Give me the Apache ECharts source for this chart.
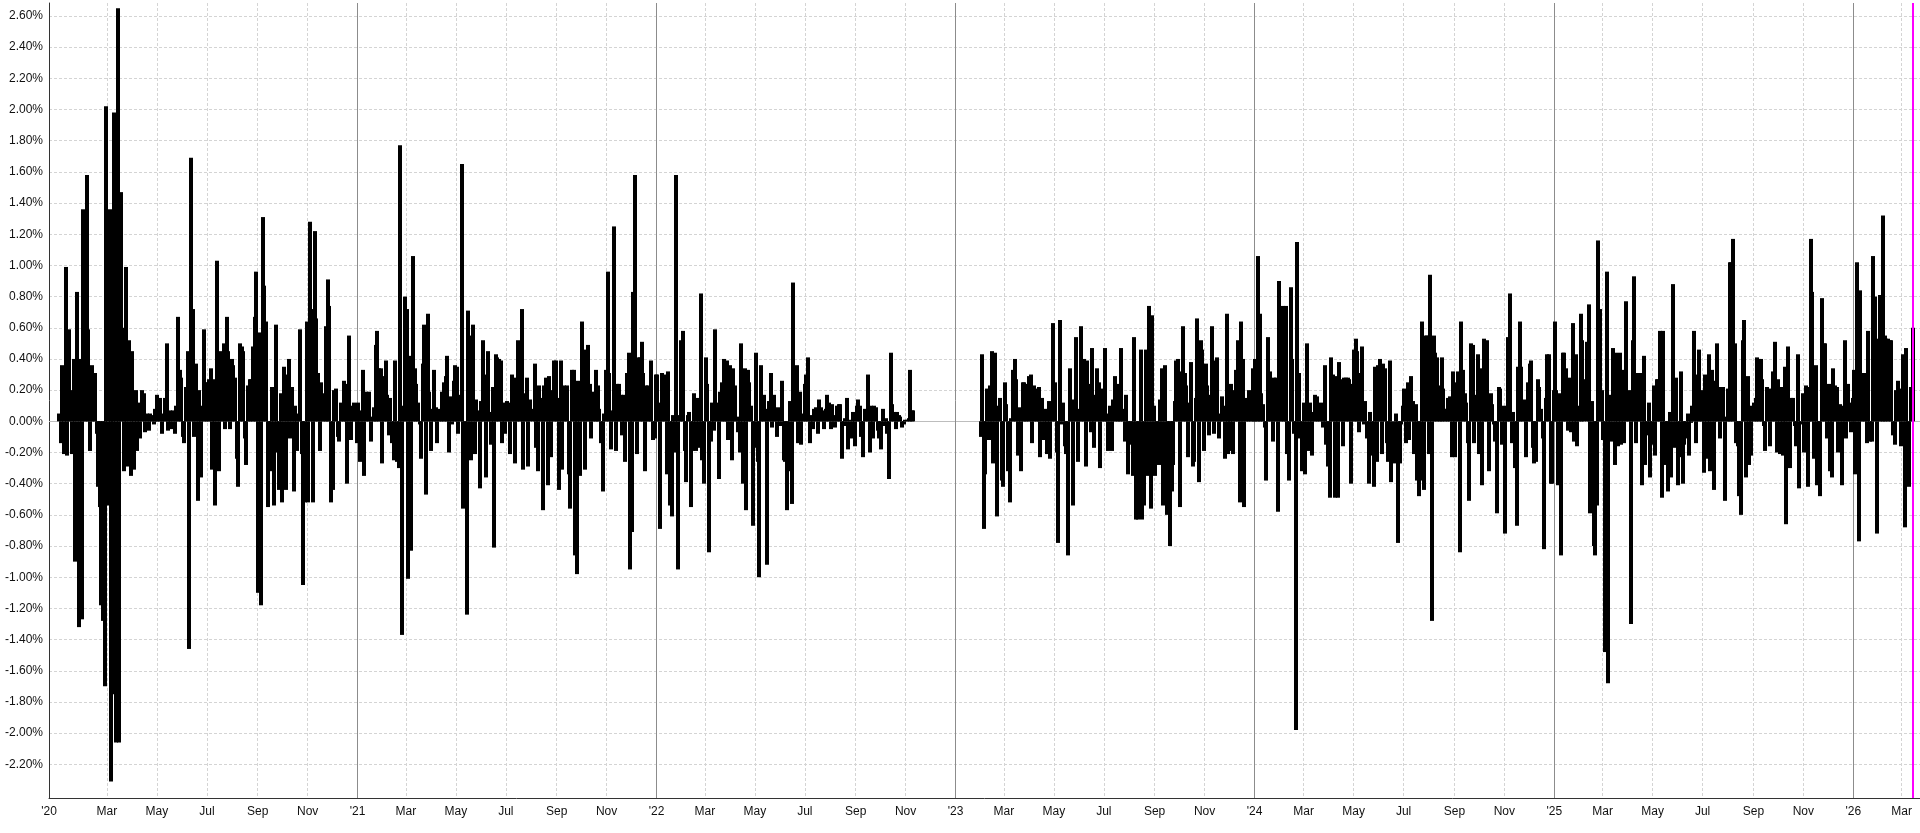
<!DOCTYPE html>
<html>
<head>
<meta charset="utf-8">
<script src="https://cdn.jsdelivr.net/npm/echarts@6/dist/echarts.min.js"></script>
<style>html,body{margin:0;padding:0;background:#fff}#chart{width:1920px;height:833px}</style>
</head>
<body>
<div id="chart"></div>
<script>
// Daily return (%), one value roughly every two calendar days
const ret2020 = [
 0.05,-0.14,0.36,-0.21,0.99,-0.22,0.59,0.20,-0.21,0.40,-0.90,0.83,-1.32,0.40,-1.27,1.36,0.25,1.58,0.59,-0.19,0.36,0.20,0.31,-0.08,-0.42,-0.55,-1.18,-1.28,-1.70,2.02,
 -0.54,1.36,-2.31,-1.75,1.98,-2.06,2.65,-2.06,1.47,0.60,-0.32,0.99,-0.29,0.52,-0.35,0.45,-0.31,0.20,-0.19,0.12,-0.11,0.20,0.18,-0.07,0.05,-0.06,0.05,0.04,-0.02,0.08,
 0.17,0.02,0.15,-0.08,0.05,0.15,0.50,-0.06,0.07,-0.05,0.07,-0.08,0.10,0.67,0.33,0.28,-0.10,-0.14,0.22,0.45,-1.46,1.69,0.72,-0.10,0.37,-0.51,0.20,-0.36,0.10,0.59,0.25,
 0.25,0.27,0.34,-0.31,0.27,-0.54,1.03,-0.32,0.45,0.41,0.50,-0.05,0.67,0.45,-0.05,0.40,0.36,0.28,-0.24,-0.42,0.50,0.48,0.45,-0.11,-0.28,0.23,0.27,0.27,0.48,0.67,0.96,
 -1.10,0.57,-1.18,1.31,0.87,0.64,-0.55,-0.14,-0.32,0.22,-0.54,0.62,-0.20,-0.44,0.18,-0.52,0.35,-0.44,0.30,0.40,-0.11,0.22,-0.45,0.10,-0.19,0.05,0.59,-0.21,-1.05,-0.52,0.64,
 -0.52,1.28,0.72,-0.52,1.22,0.66,0.31,-0.19,0.25,0.18,0.17,0.61,0.91,0.74,-0.52,-0.44,0.20,0.21,-0.10,-0.13,0.12,0.09,0.26,0.24,-0.40,0.55,-0.12,0.10,0.12,0.05,-0.14
];
const ret2021 = [
 0.12,-0.26,0.07,0.33,-0.35,0.19,0.05,0.19,-0.13,0.03,0.09,0.49,0.58,0.34,0.34,-0.27,0.29,0.39,0.17,-0.09,0.15,-0.14,-0.25,0.39,-0.26,-0.30,1.77,-1.37,0.10,0.80,
 0.72,-1.01,0.42,-0.83,1.06,0.34,0.24,0.12,-0.02,-0.24,0.37,0.62,-0.47,0.69,0.19,-0.19,0.08,0.33,0.09,-0.14,0.08,0.04,0.19,0.25,0.29,0.42,-0.20,0.16,-0.02,0.26,0.36,
 0.35,-0.08,0.17,1.65,-0.56,-0.08,-1.24,0.71,0.55,-0.25,0.62,-0.21,0.14,0.07,-0.43,0.13,0.52,0.30,-0.36,0.45,0.06,-0.15,0.22,-0.81,0.43,0.41,0.40,0.39,-0.14,0.12,-0.08,
 0.13,0.12,-0.21,0.30,0.28,-0.27,0.13,0.52,0.35,0.72,-0.31,0.18,0.28,-0.29,0.14,0.00,0.08,0.37,-0.17,-0.32,0.23,0.15,-0.57,0.23,0.28,-0.41,0.29,-0.23,0.20,0.39,0.39,
 0.15,-0.44,0.39,-0.31,0.23,0.17,0.23,-0.34,-0.56,0.33,0.33,-0.86,-0.98,0.26,-0.35,0.64,0.30,-0.31,0.46,0.49,0.24,-0.11,0.19,0.10,0.33,0.23,0.08,-0.14,-0.45,0.05,0.33,
 0.96,0.31,-0.18,0.07,1.25,-0.19,0.24,0.24,0.17,-0.09,0.17,-0.26,0.31,0.44,-0.95,-0.71,0.83,1.58,-0.21,0.41,0.41,0.51,0.31,-0.32,0.23,0.23,0.19,0.39,-0.12,-0.11,0.30
];
const ret2022 = [
 0.30,0.12,-0.69,0.31,0.18,0.30,-0.34,0.32,-0.54,-0.61,0.04,-0.20,1.58,-0.95,0.04,0.52,0.58,-0.19,-0.39,0.04,0.06,-0.55,-0.19,0.18,-0.19,0.15,-0.17,0.82,-0.25,-0.40,
 0.41,0.24,-0.84,-0.13,0.12,-0.06,0.59,0.12,-0.37,0.19,0.25,0.40,0.31,0.39,-0.12,0.36,-0.25,0.34,0.23,0.03,-0.07,-0.20,0.50,-0.40,0.34,-0.57,0.33,0.25,0.10,-0.67,-0.17,
 0.44,-0.26,-1.00,0.36,0.06,0.17,0.08,-0.92,0.13,0.31,-0.04,0.17,0.09,-0.10,0.09,-0.03,0.26,-0.25,-0.26,-0.57,-0.32,0.13,-0.53,0.89,0.13,0.36,-0.14,0.19,-0.15,0.05,0.24,
 0.30,0.41,-0.14,0.04,-0.05,0.08,0.09,-0.08,0.14,0.09,0.07,-0.05,0.08,0.17,0.12,-0.05,0.11,0.04,-0.04,0.10,0.11,0.11,-0.24,-0.03,0.02,0.15,-0.18,0.01,-0.11,0.06,-0.16,
 0.10,0.14,0.10,-0.10,-0.23,0.08,0.05,0.30,-0.20,0.10,-0.11,0.10,0.09,-0.06,-0.11,-0.18,0.08,-0.03,0.02,-0.08,-0.37,0.44,0.11,0.06,-0.05,0.06,0.04,0.03,-0.04,-0.02,0.01,0.01,0.02,0.33,0.07,0.07
];
const ret2023 = [
 -0.10,0.43,-0.69,-0.34,0.21,-0.12,0.23,0.45,-0.27,0.44,-0.61,0.10,0.15,-0.38,-0.42,
 0.25,0.11,-0.32,-0.52,0.02,0.33,0.40,0.27,-0.22,0.09,-0.32,0.25,0.25,0.21,0.24,0.29,0.30,-0.14,0.23,0.21,0.05,0.22,-0.23,0.15,-0.12,0.08,-0.21,0.13,-0.24,0.10,0.63,
 0.25,-0.20,-0.78,0.65,-0.02,0.12,-0.16,-0.21,-0.86,0.34,0.05,-0.54,0.14,0.54,-0.26,0.08,0.61,0.22,0.40,-0.29,0.39,0.24,-0.07,0.47,-0.17,0.17,0.34,0.25,-0.30,0.21,0.13,
 0.47,0.05,-0.19,0.10,-0.19,0.14,0.29,0.24,0.12,0.18,0.47,0.08,-0.13,0.17,-0.34,-0.12,-0.15,-0.35,0.54,-0.63,-0.63,-0.35,0.46,-0.63,-0.54,0.46,-0.35,0.74,-0.56,0.68,0.10,
 -0.35,-0.16,-0.28,0.14,0.34,-0.54,0.36,-0.60,-0.28,-0.80,-0.45,-0.28,0.13,0.39,0.40,-0.55,0.32,0.61,0.31,0.23,-0.23,0.12,0.38,-0.29,-0.26,0.15,0.66,-0.39,0.52,0.46,-0.19,
 0.37,0.23,-0.09,0.17,0.61,-0.08,0.39,0.41,-0.11,0.05,0.16,0.10,-0.24,0.69,-0.21,-0.19,0.24,-0.21,0.20,0.33,0.52,-0.52,0.64,0.40,-0.55,0.15,0.12,0.20,0.12,0.34,0.30
];
const ret2024 = [
 0.40,0.34,1.06,0.69,0.18,0.11,-0.04,-0.38,0.54,0.32,0.17,-0.13,0.28,0.28,-0.58,0.90,0.26,0.74,0.05,0.74,-0.21,-0.38,0.86,0.40,-0.08,-1.98,1.15,0.31,-0.11,-0.32,
 0.12,-0.34,0.50,-0.19,0.12,-0.22,0.06,0.17,0.16,0.12,0.08,0.12,-0.04,0.36,-0.15,-0.29,-0.49,0.41,0.30,-0.49,0.29,-0.49,0.38,0.27,-0.16,0.28,0.28,0.28,0.27,-0.40,0.24,
 0.46,0.53,0.45,-0.07,0.31,0.48,-0.02,0.13,-0.11,-0.40,0.06,-0.22,-0.42,0.35,-0.26,0.36,0.40,-0.21,0.37,0.34,-0.14,-0.26,0.39,-0.39,0.00,-0.27,0.05,-0.78,-0.27,-0.02,0.10,
 0.21,-0.14,0.25,-0.12,0.29,0.13,-0.21,0.11,-0.38,-0.48,-0.38,0.64,-0.44,0.55,0.55,-0.21,0.94,-1.28,0.55,0.44,0.41,0.21,0.23,0.41,0.21,0.08,0.08,0.15,0.16,-0.23,0.32,
 -0.23,0.25,0.32,-0.84,0.64,0.33,0.18,0.12,-0.14,-0.51,0.50,0.49,-0.14,0.17,0.43,-0.21,0.34,-0.41,0.53,0.28,0.52,-0.32,0.18,0.11,-0.02,-0.13,-0.59,0.22,0.21,-0.15,0.10,
 -0.72,0.06,0.54,0.82,-0.14,0.06,-0.30,-0.67,0.35,0.64,0.35,0.08,0.14,-0.23,0.25,0.37,0.39,-0.17,-0.27,-0.26,0.27,0.22,0.08,-0.11,-0.82,0.15,0.43,0.43,-0.40,-0.40,0.20
];
const ret2025 = [
 0.64,0.20,-0.41,0.18,-0.86,0.44,0.44,0.34,-0.06,0.28,-0.07,0.63,-0.13,0.43,-0.16,0.10,0.69,0.52,0.27,0.00,0.51,0.75,-0.59,0.13,-0.80,-0.86,-0.54,1.16,0.72,0.20,
 -0.12,-1.48,0.96,-1.68,0.17,-0.13,0.47,-0.28,0.44,-0.16,0.44,-0.15,0.33,-0.14,0.77,0.12,0.20,-1.30,0.52,0.93,-0.14,0.31,0.31,0.31,-0.41,0.42,-0.28,-0.09,0.12,-0.36,-0.15,
 0.23,-0.22,0.27,0.27,0.58,-0.49,0.58,-0.28,-0.15,-0.45,0.06,-0.36,0.88,-0.17,0.28,-0.41,-0.23,0.32,-0.40,-0.15,-0.11,0.05,-0.22,-0.01,0.10,0.58,-0.14,0.30,0.46,0.20,0.12,
 -0.33,0.30,-0.24,0.43,-0.32,0.33,-0.44,0.26,0.50,0.22,-0.11,0.22,0.22,-0.51,0.03,0.21,1.02,1.02,1.17,0.50,-0.14,-0.16,-0.48,-0.60,0.52,0.65,-0.36,0.29,-0.28,-0.22,0.10,
 0.12,0.15,0.41,0.40,0.40,0.27,-0.03,-0.19,0.22,0.21,-0.16,0.20,0.32,0.51,-0.20,0.27,-0.21,0.22,-0.22,0.35,-0.66,0.48,-0.30,0.15,0.15,-0.03,-0.16,0.43,-0.43,-0.02,0.18,
 -0.20,0.23,-0.42,0.22,1.17,0.83,-0.24,0.36,-0.41,-0.35,-0.48,0.79,0.50,0.50,-0.11,0.24,-0.32,-0.36,0.34,0.23,0.22,-0.20,0.11,-0.41,0.10,0.52,-0.11,0.24,0.12,-0.07,0.15
];
const ret2026 = [
 0.33,-0.34,1.02,-0.77,0.84,0.30,0.31,0.30,-0.14,0.58,-0.13,-0.13,1.06,0.80,-0.72,0.53,0.81,0.81,1.32,0.55,
 0.53,0.53,0.52,0.52,-0.09,-0.15,0.20,0.26,0.21,-0.16,0.43,-0.68,0.47,-0.30,-0.42,0.22,0.60
];
const blockArrays = [ret2020, ret2021, ret2022, ret2023, ret2024, ret2025, ret2026];
const blockStart = ['2020-01-02','2021-01-01','2022-01-01','2023-01-31','2024-01-01','2025-01-01','2026-01-01'];
const blockEnd   = ['2020-12-31','2021-12-31','2022-11-10','2023-12-31','2024-12-31','2025-12-31','2026-03-14'];
const yTicks = [-2.2,-2.0,-1.8,-1.6,-1.4,-1.2,-1.0,-0.8,-0.6,-0.4,-0.2,0,0.2,0.4,0.6,0.8,1.0,1.2,1.4,1.6,1.8,2.0,2.2,2.4,2.6];
const monthNames = ['Jan','Feb','Mar','Apr','May','Jun','Jul','Aug','Sep','Oct','Nov','Dec'];
const markerDate = '2026-03-14T12:00:00Z';

const seriesData = [];
blockArrays.forEach((arr, k) => {
  const s = Date.parse(blockStart[k] + 'T12:00:00Z');
  const e = Date.parse(blockEnd[k] + 'T12:00:00Z');
  const step = (e - s) / (arr.length - 1);
  arr.forEach((v, i) => seriesData.push([s + i * step, v]));
});

const xMin = Date.UTC(2019, 11, 21, 6);
const xMax = Date.UTC(2026, 2, 23, 10);
const labelVals = [xMin], gridVals = [], yearVals = [];
for (let y = 2020; y <= 2026; y++) {
  for (let m = 0; m < 12; m += 2) {
    if (y === 2020 && m === 0) continue;
    const t = Date.UTC(y, m, 1);
    if (t > xMax) continue;
    labelVals.push(t);
    if (m === 0) yearVals.push(t); else gridVals.push(t);
  }
}
const yGridVals = yTicks.filter(v => v !== 0);
const FONT = '"Liberation Sans", Arial, sans-serif';
const BAR_W = 4;
const markerT = Date.parse(markerDate);

function renderBar(params, api) {
  const x = api.value(0), v = api.value(1);
  const base = api.coord([x, 0]);
  const top = api.coord([x, v]);
  return {
    type: 'rect',
    shape: {x: Math.round(base[0] - BAR_W / 2), y: Math.min(base[1], top[1]), width: BAR_W, height: Math.abs(top[1] - base[1])},
    style: {fill: '#000000'}
  };
}

const chart = echarts.init(document.getElementById('chart'), null, {renderer: 'canvas'});
chart.setOption({
  animation: false,
  backgroundColor: '#ffffff',
  textStyle: {fontFamily: FONT},
  grid: {left: 49, right: 0, top: 3, bottom: 35, containLabel: false, outerBoundsMode: 'none'},
  xAxis: {
    type: 'value', min: xMin, max: xMax, scale: true,
    axisLine: {show: true, onZero: false, lineStyle: {color: '#333333', width: 1}},
    axisTick: {show: false, customValues: gridVals},
    axisLabel: {
      customValues: labelVals, hideOverlap: false, margin: 8,
      fontSize: 12, color: '#111111', fontFamily: FONT,
      formatter: function (v) {
        if (Math.abs(v - xMin) < 1000) return "'20";
        const d = new Date(v);
        if (d.getUTCMonth() === 0) return "'" + String(d.getUTCFullYear()).slice(2);
        return monthNames[d.getUTCMonth()];
      }
    },
    splitLine: {show: true, lineStyle: {color: '#d4d4d4', width: 1, type: [3, 2]}}
  },
  yAxis: {
    type: 'value', min: -2.416, max: 2.683,
    axisLine: {show: true, onZero: false, lineStyle: {color: '#333333', width: 1}},
    axisTick: {show: false, customValues: yGridVals},
    axisLabel: {
      customValues: yTicks, margin: 6, fontSize: 12, color: '#111111', fontFamily: FONT,
      formatter: v => v.toFixed(2) + '%'
    },
    splitLine: {show: true, lineStyle: {color: '#d4d4d4', width: 1, type: [3, 2]}}
  },
  series: [
    {
      type: 'line',
      data: [[markerT, 0]],
      showSymbol: false,
      symbol: 'none',
      lineStyle: {width: 0},
      z: 1,
      silent: true,
      markLine: {
        silent: true, animation: false, symbol: ['none', 'none'], z: 1,
        label: {show: false},
        lineStyle: {type: 'solid', width: 1},
        data: [
          {yAxis: 0, lineStyle: {color: '#bdbdbd', width: 1, type: 'solid'}}
        ].concat(yearVals.map(t => ({xAxis: t, lineStyle: {color: '#8c8c8c', width: 1, type: 'solid'}})))
      }
    },
    {
      type: 'custom',
      data: seriesData,
      renderItem: renderBar,
      clip: true,
      z: 3,
      encode: {x: 0, y: 1}
    },
    {
      type: 'line',
      data: [[markerT, 0]],
      showSymbol: false,
      symbol: 'none',
      lineStyle: {width: 0},
      z: 10,
      silent: true,
      markLine: {
        silent: true, animation: false, symbol: ['none', 'none'], z: 10,
        label: {show: false},
        data: [{xAxis: markerT, lineStyle: {color: '#ff00ff', width: 2, type: 'solid'}}]
      }
    }
  ]
});
</script>
</body>
</html>
